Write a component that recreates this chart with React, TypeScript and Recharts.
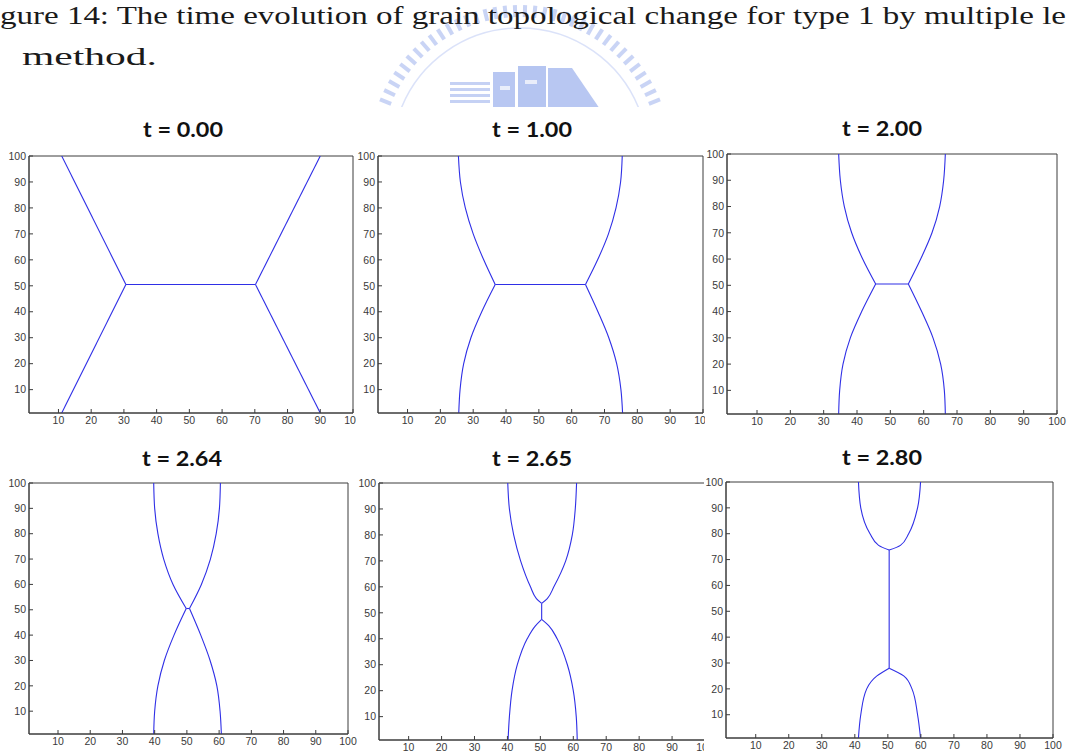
import { LineChart, Line, XAxis, YAxis, ReferenceArea } from 'recharts';

type Pt = [number, number];

// tick values shared by every frame
const xTicks = [10, 20, 30, 40, 50, 60, 70, 80, 90, 100];
const yTicks = [10, 20, 30, 40, 50, 60, 70, 80, 90, 100];

const frameTitles = ['t = 0.00', 't = 1.00', 't = 2.00', 't = 2.64', 't = 2.65', 't = 2.80'];

const captionLine1 = 'gure 14: The time evolution of grain topological change for type 1 by multiple le';
const captionLine2 = 'method.';

const boundaries000: Pt[][] = [
  [[11, 100], [30.6, 50.5]],
  [[11, 1], [30.6, 50.5]],
  [[30.6, 50.5], [70.2, 50.5]],
  [[90, 100], [70.2, 50.5]],
  [[90, 1], [70.2, 50.5]],
];

const boundaries100: Pt[][] = [
  [[25.5, 100], [26.1, 90], [27.6, 80], [30.0, 70], [33.2, 60], [36.7, 50.5]],
  [[25.6, 1], [26.0, 10], [27.1, 20], [29.3, 30], [32.6, 40], [36.7, 50.5]],
  [[36.7, 50.5], [64.2, 50.5]],
  [[75.4, 100], [74.9, 90], [73.5, 80], [71.2, 70], [67.9, 60], [64.2, 50.5]],
  [[75.5, 1], [75.0, 10], [73.7, 20], [71.3, 30], [68.0, 40], [64.2, 50.5]],
];

const boundaries200: Pt[][] = [
  [[34.5, 100], [35.0, 90], [36.2, 80], [38.4, 70], [41.7, 60], [45.6, 50.5]],
  [[34.5, 1], [34.8, 10], [35.8, 20], [38.0, 30], [41.4, 40], [45.6, 50.5]],
  [[45.6, 50.5], [55.4, 50.5]],
  [[66.5, 100], [66.0, 90], [64.8, 80], [62.5, 70], [59.1, 60], [55.4, 50.5]],
  [[66.5, 1], [66.2, 10], [65.1, 20], [62.8, 30], [59.4, 40], [55.4, 50.5]],
];

const boundaries264: Pt[][] = [
  [[39.7, 100], [40.0, 90], [41.0, 80], [42.8, 70], [45.7, 60], [49.8, 50.5]],
  [[39.7, 1], [40.0, 10], [41.0, 20], [43.0, 30], [46.0, 40], [49.8, 50.5]],
  [[49.8, 50.5], [50.8, 50.5]],
  [[60.4, 100], [60.1, 90], [59.1, 80], [57.3, 70], [54.5, 60], [50.8, 50.5]],
  [[60.7, 1], [60.3, 10], [59.3, 20], [57.2, 30], [54.3, 40], [50.8, 50.5]],
];

const boundaries265: Pt[][] = [
  [[40.1, 100], [40.6, 90], [41.9, 80], [44.0, 70], [47.0, 60], [48.8, 55.5], [50.4, 53.6]],
  [[61.0, 100], [60.6, 90], [59.7, 80], [57.7, 70], [54.1, 60], [52.1, 55.5], [50.4, 53.6]],
  [[50.4, 53.6], [50.4, 47.5]],
  [[40.2, 1], [40.6, 10], [41.4, 20], [43.0, 30], [46.0, 40], [48.5, 45], [50.4, 47.5]],
  [[61.2, 1], [60.9, 10], [60.0, 20], [58.2, 30], [55.1, 40], [52.6, 45], [50.4, 47.5]],
];

const boundaries280: Pt[][] = [
  [[41.1, 100], [41.8, 90], [44.6, 80], [47.2, 75.5], [50.4, 73.7]],
  [[59.9, 100], [59.0, 90], [56.3, 80], [53.8, 75.5], [50.4, 73.7]],
  [[50.4, 73.7], [50.4, 28]],
  [[41.1, 1], [41.8, 10], [43.6, 20], [46.7, 25], [50.4, 28]],
  [[59.9, 1], [59.0, 10], [57.3, 20], [54.8, 25], [50.4, 28]],
];

const frameData = [boundaries000, boundaries100, boundaries200, boundaries264, boundaries265, boundaries280];

// plot-area boxes on the page and title anchors
const frameBoxes = [
  { left: 29, top: 156, right: 353, bottom: 413, tx: 183, ty: 137 },
  { left: 378, top: 156, right: 703, bottom: 413, tx: 532, ty: 137 },
  { left: 727, top: 154, right: 1057, bottom: 414, tx: 882, ty: 136 },
  { left: 29, top: 483, right: 348, bottom: 734, tx: 182, ty: 466 },
  { left: 379, top: 483, right: 705, bottom: 740, tx: 532, ty: 466 },
  { left: 726, top: 482, right: 1053, bottom: 738, tx: 882, ty: 465 },
];

const AXIS = '#3c3c3c';
const CURVE = '#2f2fe6';
const tickFont = { fontSize: 10.5, fill: '#3a3a3a', fontFamily: 'Liberation Sans, Arial, sans-serif' };

function Frame({ branches, box }: { branches: Pt[][]; box: (typeof frameBoxes)[number] }) {
  const yw = 22;
  const mt = 6;
  const mr = 10;
  const xh = 20;
  const pw = box.right - box.left;
  const ph = box.bottom - box.top;
  return (
    <div style={{ position: 'absolute', left: box.left - yw, top: box.top - mt, background: '#fff' }}>
      <LineChart width={yw + pw + mr} height={mt + ph + xh} margin={{ top: mt, right: mr, bottom: 0, left: 0 }}>
        <XAxis
          xAxisId="b"
          dataKey="x"
          type="number"
          domain={[1, 100]}
          ticks={xTicks}
          interval={0}
          allowDataOverflow
          height={xh}
          tickSize={-4}
          tickMargin={8}
          stroke={AXIS}
          tick={tickFont}
        />
        <XAxis
          xAxisId="t"
          dataKey="x"
          orientation="top"
          type="number"
          domain={[1, 100]}
          ticks={xTicks}
          interval={0}
          allowDataOverflow
          height={0}
          tickSize={-4}
          stroke={AXIS}
          tick={false}
        />
        <YAxis
          yAxisId="l"
          type="number"
          domain={[1, 100]}
          ticks={yTicks}
          interval={0}
          allowDataOverflow
          width={yw}
          tickSize={-4}
          tickMargin={7}
          stroke={AXIS}
          tick={tickFont}
        />
        <YAxis
          yAxisId="r"
          orientation="right"
          type="number"
          domain={[1, 100]}
          ticks={yTicks}
          interval={0}
          allowDataOverflow
          width={0}
          tickSize={-4}
          stroke={AXIS}
          tick={false}
        />
        <ReferenceArea xAxisId="b" yAxisId="l" x1={1} x2={100} y1={1} y2={100} fill="none" stroke={AXIS} strokeWidth={1} ifOverflow="visible" />
        {branches.map((b, i) => (
          <Line
            key={i}
            xAxisId={i % 2 ? 't' : 'b'}
            yAxisId={i % 2 ? 'r' : 'l'}
            data={b.map(([x, y]) => ({ x, y }))}
            dataKey="y"
            type={b.length > 2 ? 'monotoneY' : 'linear'}
            stroke={CURVE}
            strokeWidth={1.1}
            dot={false}
            activeDot={false}
            isAnimationActive={false}
          />
        ))}
      </LineChart>
    </div>
  );
}

// faint university seal behind the caption
function Watermark() {
  const cx = 520;
  const cy = 156;
  const marks = Array.from({ length: 36 }, (_, i) => -158 + (i * 136) / 35);
  const rad = (a: number) => (a * Math.PI) / 180;
  return (
    <g clipPath="url(#wm-clip)" opacity={0.6}>
      {marks.map((a, i) => (
        <line
          key={i}
          x1={cx + 139 * Math.cos(rad(a))}
          y1={cy + 139 * Math.sin(rad(a))}
          x2={cx + 151 * Math.cos(rad(a))}
          y2={cy + 151 * Math.sin(rad(a))}
          stroke="#a6b8f0"
          strokeWidth={4}
        />
      ))}
      <path
        d={`M ${cx + 128 * Math.cos(rad(-160))} ${cy + 128 * Math.sin(rad(-160))} A 128 128 0 0 1 ${cx + 128 * Math.cos(rad(-20))} ${cy + 128 * Math.sin(rad(-20))}`}
        fill="none"
        stroke="#c4d0f6"
        strokeWidth={1.5}
      />
      {[82, 88, 94, 100].map((y) => (
        <rect key={y} x={450} y={y} width={40} height={3} fill="#9fb3ee" />
      ))}
      <rect x={493} y={72} width={22} height={40} fill="#8aa3ea" />
      <rect x={518} y={66} width={28} height={46} fill="#859fe8" />
      <polygon points="548,68 572,68 602,112 548,112" fill="#8aa3ea" />
      <rect x={500} y={86} width={10} height={4} fill="#ffffff" opacity={0.7} />
      <rect x={525} y={80} width={12} height={4} fill="#ffffff" opacity={0.7} />
    </g>
  );
}

export default function App() {
  return (
    <div style={{ position: 'absolute', left: 0, top: 0, width: 1069, height: 754, background: '#fff', overflow: 'hidden' }}>
      <svg width={1069} height={754} style={{ position: 'absolute', left: 0, top: 0 }}>
        <defs>
          <clipPath id="wm-clip">
            <rect x={0} y={0} width={1069} height={107} />
          </clipPath>
        </defs>
        <Watermark />
        <text
          x={0}
          y={24}
          fontSize={25}
          fontFamily="'Liberation Serif', serif"
          fill="#1a1a1a"
          textLength={1066}
          lengthAdjust="spacingAndGlyphs"
        >
          {captionLine1}
        </text>
        <text
          x={22}
          y={65}
          fontSize={25}
          fontFamily="'Liberation Serif', serif"
          fill="#1a1a1a"
          textLength={135}
          lengthAdjust="spacingAndGlyphs"
        >
          {captionLine2}
        </text>
        {frameBoxes.map((b, i) => (
          <text
            key={i}
            x={b.tx - 40}
            y={b.ty}
            fontSize={20}
            fontWeight={700}
            fontFamily="Lato, 'Open Sans', sans-serif"
            fill="#111"
            textLength={80}
            lengthAdjust="spacingAndGlyphs"
          >
            {frameTitles[i]}
          </text>
        ))}
      </svg>
      {frameBoxes.map((b, i) => (
        <Frame key={i} branches={frameData[i]} box={b} />
      ))}
    </div>
  );
}
